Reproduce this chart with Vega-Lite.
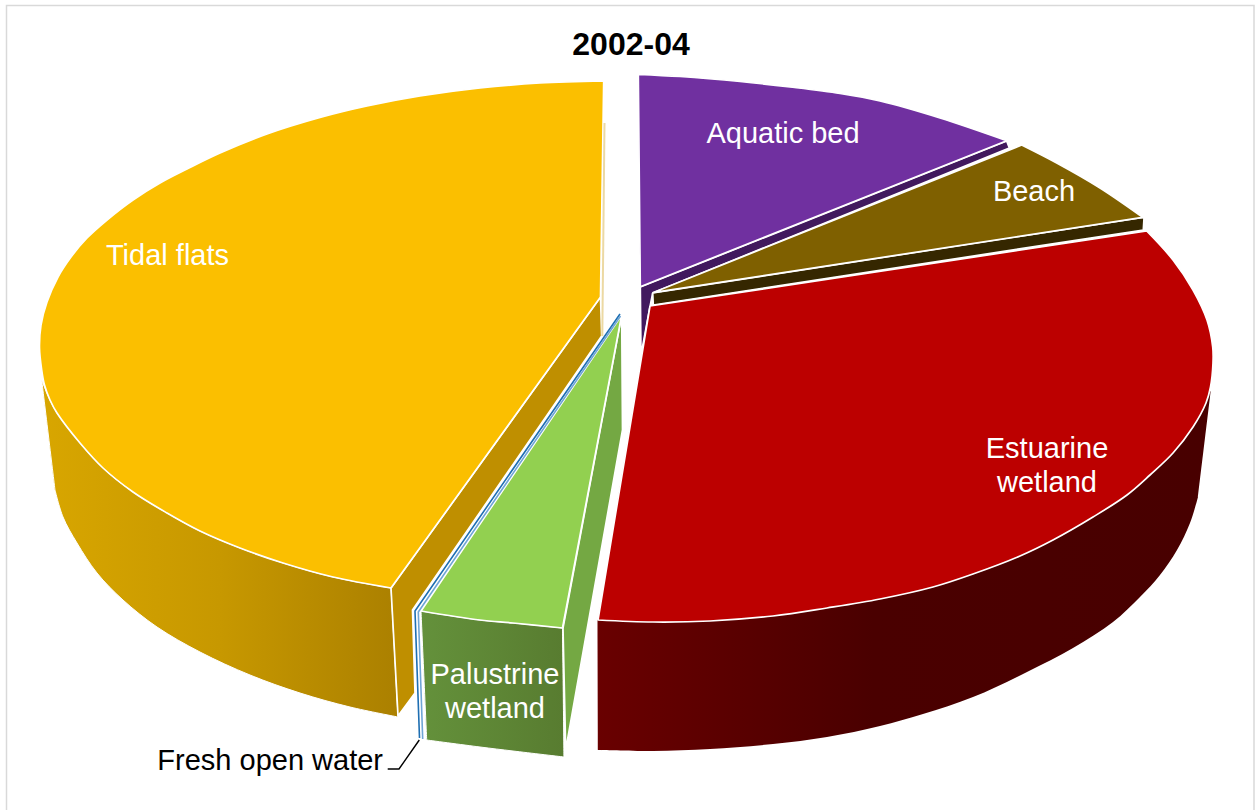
{
"$schema":"https://vega.github.io/schema/vega-lite/v6.json",
"width":1255,"height":810,"padding":0,
"autosize":{"type":"none"},
"background":"white",
"config":{"view":{"stroke":null}},
"datasets":{
"outlines":[
{"part":"tidal_side","n":1,"x":41.7,"y":380},{"part":"tidal_side","n":2,"x":50,"y":400},{"part":"tidal_side","n":3,"x":57,"y":413},{"part":"tidal_side","n":4,"x":80,"y":443},{"part":"tidal_side","n":5,"x":103,"y":468},{"part":"tidal_side","n":6,"x":133,"y":492},{"part":"tidal_side","n":7,"x":167,"y":513},{"part":"tidal_side","n":8,"x":200,"y":531},{"part":"tidal_side","n":9,"x":240,"y":548},{"part":"tidal_side","n":10,"x":283,"y":563},{"part":"tidal_side","n":11,"x":333,"y":577},{"part":"tidal_side","n":12,"x":391,"y":588},{"part":"tidal_side","n":13,"x":391,"y":588},{"part":"tidal_side","n":14,"x":391,"y":588},{"part":"tidal_side","n":15,"x":398,"y":717},{"part":"tidal_side","n":16,"x":398,"y":717},{"part":"tidal_side","n":17,"x":398,"y":717},{"part":"tidal_side","n":18,"x":350,"y":707},{"part":"tidal_side","n":19,"x":300,"y":693},{"part":"tidal_side","n":20,"x":250,"y":675},{"part":"tidal_side","n":21,"x":200,"y":652},{"part":"tidal_side","n":22,"x":157,"y":627},{"part":"tidal_side","n":23,"x":123,"y":600},{"part":"tidal_side","n":24,"x":97,"y":573},{"part":"tidal_side","n":25,"x":77,"y":543},{"part":"tidal_side","n":26,"x":63,"y":517},{"part":"tidal_side","n":27,"x":55,"y":490},{"part":"tidal_side","n":28,"x":55,"y":490},{"part":"tidal_side","n":29,"x":55,"y":490},{"part":"tidal_side","n":30,"x":41.7,"y":380},
{"part":"palustrine_side","n":1,"x":421,"y":611},{"part":"palustrine_side","n":2,"x":480,"y":620},{"part":"palustrine_side","n":3,"x":513,"y":623},{"part":"palustrine_side","n":4,"x":562.5,"y":628},{"part":"palustrine_side","n":5,"x":562.5,"y":628},{"part":"palustrine_side","n":6,"x":562.5,"y":628},{"part":"palustrine_side","n":7,"x":564,"y":757},{"part":"palustrine_side","n":8,"x":564,"y":757},{"part":"palustrine_side","n":9,"x":564,"y":757},{"part":"palustrine_side","n":10,"x":513,"y":751},{"part":"palustrine_side","n":11,"x":480,"y":747},{"part":"palustrine_side","n":12,"x":426.7,"y":740},{"part":"palustrine_side","n":13,"x":426.7,"y":740},{"part":"palustrine_side","n":14,"x":426.7,"y":740},{"part":"palustrine_side","n":15,"x":421,"y":611},
{"part":"estuarine_side","n":1,"x":1210.7,"y":391},{"part":"estuarine_side","n":2,"x":1198,"y":497},{"part":"estuarine_side","n":3,"x":1198,"y":497},{"part":"estuarine_side","n":4,"x":1198,"y":497},{"part":"estuarine_side","n":5,"x":1190,"y":523},{"part":"estuarine_side","n":6,"x":1177,"y":550},{"part":"estuarine_side","n":7,"x":1160,"y":575},{"part":"estuarine_side","n":8,"x":1140,"y":597},{"part":"estuarine_side","n":9,"x":1113,"y":622},{"part":"estuarine_side","n":10,"x":1073,"y":648},{"part":"estuarine_side","n":11,"x":1027,"y":672},{"part":"estuarine_side","n":12,"x":973,"y":697},{"part":"estuarine_side","n":13,"x":923,"y":714},{"part":"estuarine_side","n":14,"x":880,"y":726},{"part":"estuarine_side","n":15,"x":827,"y":737},{"part":"estuarine_side","n":16,"x":773,"y":744},{"part":"estuarine_side","n":17,"x":710,"y":749},{"part":"estuarine_side","n":18,"x":653,"y":751},{"part":"estuarine_side","n":19,"x":598,"y":750},{"part":"estuarine_side","n":20,"x":598,"y":750},{"part":"estuarine_side","n":21,"x":598,"y":750},{"part":"estuarine_side","n":22,"x":597.5,"y":620},{"part":"estuarine_side","n":23,"x":597.5,"y":620},{"part":"estuarine_side","n":24,"x":597.5,"y":620},{"part":"estuarine_side","n":25,"x":880,"y":599},{"part":"estuarine_side","n":26,"x":880,"y":599},{"part":"estuarine_side","n":27,"x":880,"y":599},{"part":"estuarine_side","n":28,"x":1210.7,"y":391}
],
"facets":[
{"part":"tidal_cut","n":1,"x":600.5,"y":297},{"part":"tidal_cut","n":2,"x":391,"y":588},{"part":"tidal_cut","n":3,"x":398,"y":716},{"part":"tidal_cut","n":4,"x":415,"y":693},{"part":"tidal_cut","n":5,"x":412.5,"y":610},{"part":"tidal_cut","n":6,"x":601.7,"y":336},{"part":"tidal_cut","n":7,"x":600.5,"y":297},
{"part":"palustrine_cut","n":1,"x":621.7,"y":315},{"part":"palustrine_cut","n":2,"x":622.5,"y":430},{"part":"palustrine_cut","n":3,"x":565.7,"y":750},{"part":"palustrine_cut","n":4,"x":563,"y":628},{"part":"palustrine_cut","n":5,"x":621.7,"y":315},
{"part":"aquatic_cut","n":1,"x":640.3,"y":287},{"part":"aquatic_cut","n":2,"x":1006.7,"y":141},{"part":"aquatic_cut","n":3,"x":1009.3,"y":148},{"part":"aquatic_cut","n":4,"x":652.7,"y":293},{"part":"aquatic_cut","n":5,"x":650,"y":306.7},{"part":"aquatic_cut","n":6,"x":641,"y":355},{"part":"aquatic_cut","n":7,"x":640.3,"y":287},
{"part":"beach_cut","n":1,"x":652.7,"y":293},{"part":"beach_cut","n":2,"x":1142.7,"y":217.3},{"part":"beach_cut","n":3,"x":1144,"y":218.3},{"part":"beach_cut","n":4,"x":1143.3,"y":230},{"part":"beach_cut","n":5,"x":653.3,"y":305},{"part":"beach_cut","n":6,"x":652.7,"y":293}
],
"tops":[
{"part":"tidal_top","n":1,"x":603.7,"y":81},{"part":"tidal_top","n":2,"x":540,"y":83},{"part":"tidal_top","n":3,"x":480,"y":88},{"part":"tidal_top","n":4,"x":420,"y":96},{"part":"tidal_top","n":5,"x":367,"y":106},{"part":"tidal_top","n":6,"x":320,"y":117.5},{"part":"tidal_top","n":7,"x":267,"y":134},{"part":"tidal_top","n":8,"x":220,"y":153},{"part":"tidal_top","n":9,"x":187,"y":169},{"part":"tidal_top","n":10,"x":160,"y":183},{"part":"tidal_top","n":11,"x":133,"y":200},{"part":"tidal_top","n":12,"x":107,"y":220},{"part":"tidal_top","n":13,"x":87,"y":238},{"part":"tidal_top","n":14,"x":71,"y":257},{"part":"tidal_top","n":15,"x":58,"y":277},{"part":"tidal_top","n":16,"x":47,"y":302},{"part":"tidal_top","n":17,"x":41,"y":325},{"part":"tidal_top","n":18,"x":39.5,"y":348},{"part":"tidal_top","n":19,"x":41.7,"y":370},{"part":"tidal_top","n":20,"x":44.5,"y":385},{"part":"tidal_top","n":21,"x":50,"y":400},{"part":"tidal_top","n":22,"x":57,"y":413},{"part":"tidal_top","n":23,"x":80,"y":443},{"part":"tidal_top","n":24,"x":103,"y":468},{"part":"tidal_top","n":25,"x":133,"y":492},{"part":"tidal_top","n":26,"x":167,"y":513},{"part":"tidal_top","n":27,"x":200,"y":531},{"part":"tidal_top","n":28,"x":240,"y":548},{"part":"tidal_top","n":29,"x":283,"y":563},{"part":"tidal_top","n":30,"x":333,"y":577},{"part":"tidal_top","n":31,"x":391,"y":588},{"part":"tidal_top","n":32,"x":391,"y":588},{"part":"tidal_top","n":33,"x":391,"y":588},{"part":"tidal_top","n":34,"x":600.5,"y":297},{"part":"tidal_top","n":35,"x":600.5,"y":297},{"part":"tidal_top","n":36,"x":600.5,"y":297},{"part":"tidal_top","n":37,"x":603.7,"y":81},
{"part":"palustrine_top","n":1,"x":621.7,"y":315},{"part":"palustrine_top","n":2,"x":621.7,"y":315},{"part":"palustrine_top","n":3,"x":421,"y":611},{"part":"palustrine_top","n":4,"x":421,"y":611},{"part":"palustrine_top","n":5,"x":421,"y":611},{"part":"palustrine_top","n":6,"x":480,"y":620},{"part":"palustrine_top","n":7,"x":513,"y":623},{"part":"palustrine_top","n":8,"x":562.5,"y":628},{"part":"palustrine_top","n":9,"x":562.5,"y":628},{"part":"palustrine_top","n":10,"x":562.5,"y":628},{"part":"palustrine_top","n":11,"x":621.7,"y":315},
{"part":"aquatic_top","n":1,"x":640.3,"y":286.7},{"part":"aquatic_top","n":2,"x":638.3,"y":74.3},{"part":"aquatic_top","n":3,"x":638.3,"y":74.3},{"part":"aquatic_top","n":4,"x":638.3,"y":74.3},{"part":"aquatic_top","n":5,"x":680,"y":76.5},{"part":"aquatic_top","n":6,"x":740,"y":81.5},{"part":"aquatic_top","n":7,"x":790,"y":87},{"part":"aquatic_top","n":8,"x":840,"y":93.5},{"part":"aquatic_top","n":9,"x":880,"y":101},{"part":"aquatic_top","n":10,"x":940,"y":118},{"part":"aquatic_top","n":11,"x":1006.7,"y":140.7},{"part":"aquatic_top","n":12,"x":1006.7,"y":140.7},{"part":"aquatic_top","n":13,"x":1006.7,"y":140.7},{"part":"aquatic_top","n":14,"x":640.3,"y":286.7},
{"part":"beach_top","n":1,"x":652.7,"y":292.7},{"part":"beach_top","n":2,"x":1021.7,"y":145},{"part":"beach_top","n":3,"x":1021.7,"y":145},{"part":"beach_top","n":4,"x":1021.7,"y":145},{"part":"beach_top","n":5,"x":1056.7,"y":163},{"part":"beach_top","n":6,"x":1100,"y":188},{"part":"beach_top","n":7,"x":1142.7,"y":217.3},{"part":"beach_top","n":8,"x":1142.7,"y":217.3},{"part":"beach_top","n":9,"x":1142.7,"y":217.3},{"part":"beach_top","n":10,"x":652.7,"y":292.7},
{"part":"estuarine_top","n":1,"x":650,"y":306},{"part":"estuarine_top","n":2,"x":1146.7,"y":231},{"part":"estuarine_top","n":3,"x":1146.7,"y":231},{"part":"estuarine_top","n":4,"x":1146.7,"y":231},{"part":"estuarine_top","n":5,"x":1173,"y":260},{"part":"estuarine_top","n":6,"x":1193,"y":290},{"part":"estuarine_top","n":7,"x":1207,"y":320},{"part":"estuarine_top","n":8,"x":1212.7,"y":347},{"part":"estuarine_top","n":9,"x":1213,"y":363},{"part":"estuarine_top","n":10,"x":1210.5,"y":387},{"part":"estuarine_top","n":11,"x":1206,"y":403},{"part":"estuarine_top","n":12,"x":1193,"y":427},{"part":"estuarine_top","n":13,"x":1173,"y":453},{"part":"estuarine_top","n":14,"x":1150,"y":475},{"part":"estuarine_top","n":15,"x":1127,"y":495},{"part":"estuarine_top","n":16,"x":1093,"y":517},{"part":"estuarine_top","n":17,"x":1053,"y":540},{"part":"estuarine_top","n":18,"x":1020,"y":556},{"part":"estuarine_top","n":19,"x":973,"y":574},{"part":"estuarine_top","n":20,"x":933,"y":587},{"part":"estuarine_top","n":21,"x":880,"y":599},{"part":"estuarine_top","n":22,"x":827,"y":608},{"part":"estuarine_top","n":23,"x":773,"y":616},{"part":"estuarine_top","n":24,"x":710,"y":621},{"part":"estuarine_top","n":25,"x":653,"y":622},{"part":"estuarine_top","n":26,"x":598,"y":620},{"part":"estuarine_top","n":27,"x":598,"y":620},{"part":"estuarine_top","n":28,"x":598,"y":620},{"part":"estuarine_top","n":29,"x":650,"y":306}
],
"strokes":[
{"part":"frame","n":1,"x":6.5,"y":810},{"part":"frame","n":2,"x":6.5,"y":5.5},{"part":"frame","n":3,"x":1254,"y":5.5},{"part":"frame","n":4,"x":1254,"y":810},
{"part":"tidal_edge","n":1,"x":604.5,"y":123},{"part":"tidal_edge","n":2,"x":602.3,"y":336},
{"part":"fresh_outer","n":1,"x":620,"y":314},{"part":"fresh_outer","n":2,"x":415,"y":611},{"part":"fresh_outer","n":3,"x":419.5,"y":738},
{"part":"fresh_inner","n":1,"x":620.5,"y":316},{"part":"fresh_inner","n":2,"x":418.3,"y":612},{"part":"fresh_inner","n":3,"x":422.7,"y":739},
{"part":"leader","n":1,"x":419.3,"y":740},{"part":"leader","n":2,"x":399,"y":769},{"part":"leader","n":3,"x":387.7,"y":769}
]
},
"layer":[
{"data":{"name":"strokes"},"transform":[{"filter":"datum.part=='frame'"}],
 "mark":{"type":"line","stroke":"#d9d9d9","strokeWidth":1.5,"clip":false},
 "encoding":{"x":{"field":"x","type":"quantitative","scale":{"domain":[0,1255],"nice":false,"zero":false},"axis":null},"y":{"field":"y","type":"quantitative","scale":{"domain":[810,0],"nice":false,"zero":false},"axis":null},"order":{"field":"n"}}},
{"data":{"name":"outlines"},"transform":[{"filter":"datum.part=='tidal_side'"}],
 "mark":{"type":"line","interpolate":"catmull-rom","filled":true,"stroke":"white","strokeWidth":1,"strokeJoin":"round","fill":{"gradient":"linear","x1":0,"y1":0,"x2":1,"y2":0,"stops":[{"offset":0,"color":"#d8a600"},{"offset":0.5,"color":"#c79800"},{"offset":1,"color":"#ab8000"}]}},
 "encoding":{"x":{"field":"x","type":"quantitative"},"y":{"field":"y","type":"quantitative"},"order":{"field":"n"}}},
{"data":{"name":"outlines"},"transform":[{"filter":"datum.part=='palustrine_side'"}],
 "mark":{"type":"line","interpolate":"catmull-rom","filled":true,"stroke":"white","strokeWidth":1,"strokeJoin":"round","fill":{"gradient":"linear","x1":0,"y1":0,"x2":1,"y2":0,"stops":[{"offset":0,"color":"#64913b"},{"offset":1,"color":"#587c30"}]}},
 "encoding":{"x":{"field":"x","type":"quantitative"},"y":{"field":"y","type":"quantitative"},"order":{"field":"n"}}},
{"data":{"name":"outlines"},"transform":[{"filter":"datum.part=='estuarine_side'"}],
 "mark":{"type":"line","interpolate":"catmull-rom","filled":true,"strokeWidth":0,"fill":{"gradient":"linear","x1":0,"y1":0,"x2":1,"y2":0,"stops":[{"offset":0,"color":"#690000"},{"offset":0.45,"color":"#4a0000"},{"offset":1,"color":"#480000"}]}},
 "encoding":{"x":{"field":"x","type":"quantitative"},"y":{"field":"y","type":"quantitative"},"order":{"field":"n"}}},
{"data":{"name":"facets"},
 "mark":{"type":"line","filled":true,"stroke":"white","strokeWidth":1.7,"strokeJoin":"round"},
 "encoding":{"x":{"field":"x","type":"quantitative"},"y":{"field":"y","type":"quantitative"},"order":{"field":"n"},
 "color":{"field":"part","type":"nominal","legend":null,"scale":{"domain":["tidal_cut","tidal_top","palustrine_cut","palustrine_top","aquatic_cut","beach_cut","aquatic_top","beach_top","estuarine_top"],"range":["#bf8f00","#fbbf00","#74a843","#92d050","#41195e","#352700","#7030a0","#7f6000","#bc0000"]}}}},
{"data":{"name":"tops"},
 "mark":{"type":"line","interpolate":"catmull-rom","filled":true,"stroke":"white","strokeWidth":1.7,"strokeJoin":"round"},
 "encoding":{"x":{"field":"x","type":"quantitative"},"y":{"field":"y","type":"quantitative"},"order":{"field":"n"},
 "color":{"field":"part","type":"nominal","legend":null}}},
{"data":{"name":"strokes"},"transform":[{"filter":"datum.part=='tidal_edge'"}],
 "mark":{"type":"line","stroke":"#ecd9a3","strokeWidth":2},
 "encoding":{"x":{"field":"x","type":"quantitative"},"y":{"field":"y","type":"quantitative"},"order":{"field":"n"}}},
{"data":{"name":"strokes"},"transform":[{"filter":"datum.part=='fresh_outer'"}],
 "mark":{"type":"line","stroke":"#1f6fb2","strokeWidth":1.6},
 "encoding":{"x":{"field":"x","type":"quantitative"},"y":{"field":"y","type":"quantitative"},"order":{"field":"n"}}},
{"data":{"name":"strokes"},"transform":[{"filter":"datum.part=='fresh_inner'"}],
 "mark":{"type":"line","stroke":"#6fa5d6","strokeWidth":1.6},
 "encoding":{"x":{"field":"x","type":"quantitative"},"y":{"field":"y","type":"quantitative"},"order":{"field":"n"}}},
{"data":{"name":"strokes"},"transform":[{"filter":"datum.part=='leader'"}],
 "mark":{"type":"line","stroke":"black","strokeWidth":1.4},
 "encoding":{"x":{"field":"x","type":"quantitative"},"y":{"field":"y","type":"quantitative"},"order":{"field":"n"}}},
{"data":{"values":[
 {"label":"Aquatic bed","x":783,"y":143},{"label":"Beach","x":1034,"y":201},{"label":"Tidal flats","x":167.5,"y":265},
 {"label":"Estuarine\nwetland","x":1047,"y":458},{"label":"Palustrine\nwetland","x":495,"y":684}]},
 "mark":{"type":"text","font":"Liberation Sans","fontSize":29,"color":"white","align":"center","baseline":"alphabetic","lineBreak":"\n","lineHeight":33.5},
 "encoding":{"x":{"field":"x","type":"quantitative"},"y":{"field":"y","type":"quantitative"},"text":{"field":"label"}}},
{"data":{"values":[{"label":"Fresh open water","x":383,"y":770}]},
 "mark":{"type":"text","font":"Liberation Sans","fontSize":29,"color":"black","align":"right","baseline":"alphabetic"},
 "encoding":{"x":{"field":"x","type":"quantitative"},"y":{"field":"y","type":"quantitative"},"text":{"field":"label"}}},
{"data":{"values":[{"label":"2002-04","x":631,"y":55}]},
 "mark":{"type":"text","font":"Liberation Sans","fontSize":32,"fontWeight":"bold","color":"black","align":"center","baseline":"alphabetic"},
 "encoding":{"x":{"field":"x","type":"quantitative"},"y":{"field":"y","type":"quantitative"},"text":{"field":"label"}}}
]
}
